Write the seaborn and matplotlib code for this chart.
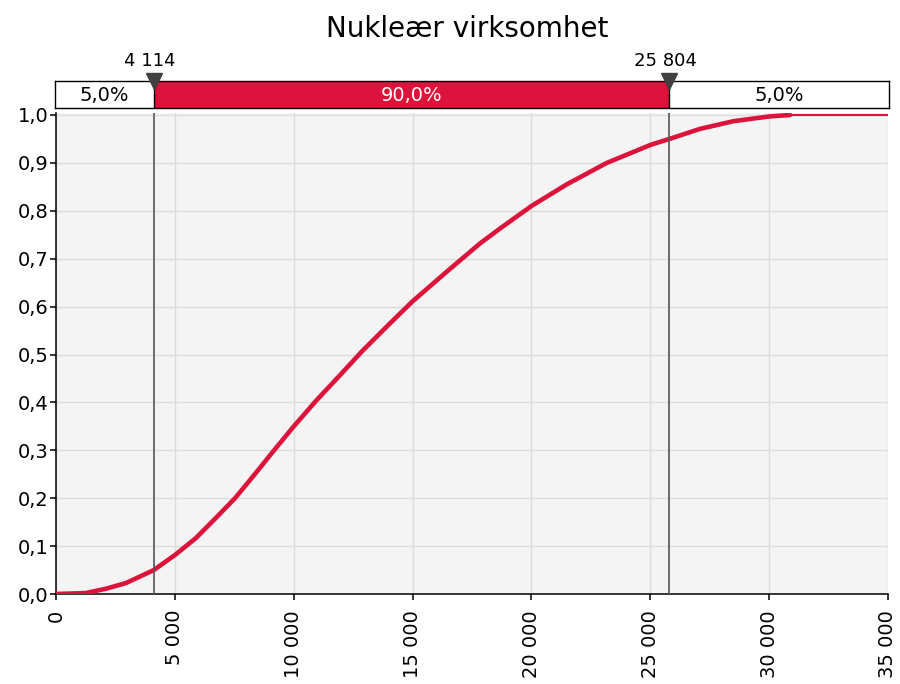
import matplotlib
matplotlib.use("Agg")
import matplotlib.pyplot as plt
import seaborn as sns
import pandas as pd
from matplotlib.ticker import FixedLocator, FuncFormatter

# Cumulative probability curve (value, cumulative probability)
cdf_x = [0, 1260, 2100, 2950, 4114, 5020, 5890, 6730, 7530, 8330, 9140,
         9985, 10970, 11950, 12860, 14050, 15000, 16440, 17840, 18680,
         20000, 21480, 23170, 25030, 25804, 27090, 28490, 30000, 30880]
cdf_p = [0.0, 0.002, 0.011, 0.023, 0.05, 0.082, 0.117, 0.159, 0.2, 0.248, 0.298,
         0.349, 0.405, 0.457, 0.506, 0.565, 0.611, 0.673, 0.732, 0.763,
         0.81, 0.855, 0.9, 0.938, 0.95, 0.971, 0.987, 0.997, 1.0]

# Flat tail after the maximum value
tail_x = [30880, 35000]
tail_p = [1.0, 1.0]

# 90 % interval limits and band labels
lower, upper = 4114, 25804
band_labels = ["5,0%", "90,0%", "5,0%"]
limit_labels = ["4 114", "25 804"]

title = "Nukleær virksomhet"
x_ticks = [0, 5000, 10000, 15000, 20000, 25000, 30000, 35000]
y_ticks = [0.0, 0.1, 0.2, 0.3, 0.4, 0.5, 0.6, 0.7, 0.8, 0.9, 1.0]

RED = "#DC143C"
MARK = "#404040"

sns.set_theme(style="white")
plt.rcParams["font.family"] = ["DejaVu Sans"]
plt.rcParams["text.color"] = "black"
plt.rcParams["xtick.color"] = "black"
plt.rcParams["ytick.color"] = "black"

W, H = 900, 684
fig = plt.figure(figsize=(W / 100, H / 100), dpi=100)

# main axes: x 56..888 px, y 113..594 px
ax = fig.add_axes([56 / W, 1 - 594 / H, 832 / W, 481 / H])
ax.set_facecolor("#F4F4F4")

df = pd.DataFrame({"x": cdf_x, "p": cdf_p})
sns.lineplot(data=df, x="x", y="p", ax=ax, color=RED, lw=3.3,
             estimator=None, sort=False, zorder=4)
ax.plot(tail_x, tail_p, color=RED, lw=1.5, zorder=4)

ax.set_xlim(0, 35000)
ax.set_ylim(0, 1 + 2 / 479)
ax.xaxis.set_major_locator(FixedLocator(x_ticks))
ax.yaxis.set_major_locator(FixedLocator(y_ticks))
ax.xaxis.set_major_formatter(FuncFormatter(lambda v, _: f"{int(v):,}".replace(",", " ")))
ax.yaxis.set_major_formatter(FuncFormatter(lambda v, _: f"{v:.1f}".replace(".", ",")))
ax.tick_params(axis="x", labelrotation=90, labelsize=14, length=4.5, width=1.1,
               color="black", labelcolor="black", pad=7, bottom=True)
ax.tick_params(axis="y", labelsize=14, length=4.5, width=1.1,
               color="black", labelcolor="black", pad=1, left=True)
ax.set_xlabel("")
ax.set_ylabel("")
ax.grid(True, color="#DCDCDC", lw=1)
ax.set_axisbelow(True)
for s in ("top", "right"):
    ax.spines[s].set_visible(False)
for s in ("left", "bottom"):
    ax.spines[s].set_color("black")
    ax.spines[s].set_linewidth(1.1)

for v in (lower, upper):
    ax.axvline(v, color="#555555", lw=1.2, zorder=5)

# interval band above the plot: 55..889 px, 81..108 px
px = 832 / 35000
axb = fig.add_axes([55 / W, 1 - 108 / H, 834 / W, 27 / H])
axb.set_xlim(-1 / px, 35000 + 1 / px)
axb.set_ylim(0, 1)
axb.set_xticks([])
axb.set_yticks([])
axb.set_facecolor("white")
for s in axb.spines.values():
    s.set_color("black")
    s.set_linewidth(1.0)
    s.set_visible(True)
axb.axvspan(lower, upper, color=RED, lw=0)
for v in (lower, upper):
    axb.axvline(v, color="black", lw=1.0)

xmin, xmax = axb.get_xlim()
centers = [(xmin + lower) / 2, (lower + upper) / 2, (upper + xmax) / 2]
colors = ["black", "white", "black"]
for c, lab, col in zip(centers, band_labels, colors):
    axb.text(c, 0.45, lab, ha="center", va="center", fontsize=14, color=col)

for v, lab in zip((lower, upper), limit_labels):
    axb.plot([v], [1 + 0.3 / 27], marker="v", ms=11.5, color=MARK,
             clip_on=False, lw=0, zorder=6)
    axb.text(v - 150, 1 + 15 / 27, lab, ha="center", va="baseline",
             fontsize=13, color="black", clip_on=False)

fig.text(467 / W, 1 - 37 / H, title, ha="center", va="baseline",
         fontsize=20, color="black")

fig.savefig("out.png", dpi=100, facecolor="white")
